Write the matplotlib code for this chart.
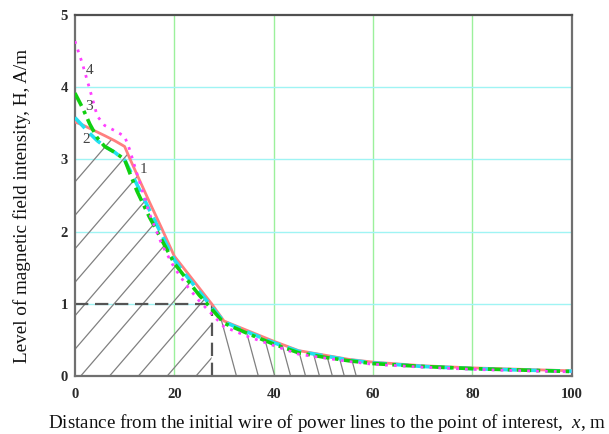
import numpy as np
import matplotlib
matplotlib.use("Agg")
import matplotlib.pyplot as plt
from matplotlib.patches import Polygon

# ---- data ----
x = [0, 1.5, 3, 4.5, 6, 8, 10, 11, 12.5, 15, 17.5, 20, 22.5, 25, 27.5, 30,
     35, 40, 45, 50, 55, 60, 70, 80, 90, 100]
h1 = [3.52, 3.48, 3.43, 3.38, 3.33, 3.26, 3.18, 3.02, 2.79, 2.41, 2.04, 1.66, 1.44, 1.22, 1.00, 0.76,
      0.62, 0.48, 0.35, 0.29, 0.23, 0.19, 0.14, 0.11, 0.09, 0.07]
h2 = [3.58, 3.47, 3.36, 3.26, 3.18, 3.10, 2.99, 2.86, 2.65, 2.30, 1.95, 1.61, 1.38, 1.17, 0.96, 0.75,
      0.60, 0.46, 0.34, 0.28, 0.22, 0.18, 0.13, 0.10, 0.08, 0.065]
h3 = [3.92, 3.72, 3.49, 3.30, 3.18, 3.10, 3.00, 2.82, 2.56, 2.20, 1.88, 1.56, 1.34, 1.12, 0.93, 0.73,
      0.58, 0.44, 0.32, 0.26, 0.21, 0.17, 0.13, 0.10, 0.08, 0.06]
h4 = [4.64, 4.33, 3.97, 3.60, 3.47, 3.40, 3.32, 3.14, 2.80, 2.25, 1.82, 1.50, 1.25, 1.04, 0.86, 0.68,
      0.54, 0.42, 0.30, 0.25, 0.20, 0.16, 0.12, 0.09, 0.07, 0.055]
curve_labels = ["1", "2", "3", "4"]
label_pos = [(13.9, 2.86), (2.3, 3.28), (2.9, 3.74), (2.9, 4.23)]
x_limit = 27.5          # distance where H = 1 A/m
h_limit = 1.0
x_right_end = 58
x_ticks = [0, 20, 40, 60, 80, 100]
y_ticks = [0, 1, 2, 3, 4, 5]

plt.rcParams['font.family'] = ['Liberation Serif', 'DejaVu Serif']
plt.rcParams['mathtext.fontset'] = 'custom'
plt.rcParams['mathtext.it'] = 'Liberation Serif:italic'
plt.rcParams['mathtext.rm'] = 'Liberation Serif'

fig = plt.figure(figsize=(6.09, 4.34), dpi=100)
ax = fig.add_axes([0.123, 0.134, 0.816, 0.831])
ax.set_xlim(0, 100)
ax.set_ylim(0, 5)

# grid
for gx in x_ticks[1:-1]:
    ax.axvline(gx, color='#9cf09c', lw=1.0, zorder=0)
for gy in y_ticks[1:-1]:
    ax.axhline(gy, color='#9ff4f4', lw=1.0, zorder=0)

# hatched regions (clip paths derived from curve 1)
xa = np.array(x, float); ya = np.array(h1, float)
xl = np.linspace(0, x_limit, 200)
left_poly = np.vstack([np.column_stack([xl, np.interp(xl, xa, ya)]), [[x_limit, 0], [0, 0]]])
xr = np.linspace(x_limit, x_right_end, 200)
right_poly = np.vstack([np.column_stack([xr, np.interp(xr, xa, ya)]), [[x_right_end, 0], [x_limit, 0]]])
lp = Polygon(left_poly, closed=True, facecolor='none', edgecolor='none', transform=ax.transData)
rp = Polygon(right_poly, closed=True, facecolor='none', edgecolor='none', transform=ax.transData)
ax.add_patch(lp); ax.add_patch(rp)

hatch_col = '#808080'
slope_l = 0.08
for k in range(-6, 5):
    xb = 1.2 + 5.8 * k
    xs = np.array([-5, 40])
    ln, = ax.plot(xs, slope_l * (xs - xb), color=hatch_col, lw=0.9, zorder=1)
    ln.set_clip_path(lp)
slope_r = 0.2555
for xb in [32.5, 36.9, 40.2, 43.4, 46.4, 49.2, 51.8, 54.2, 56.6]:
    xs = np.array([20, 70])
    ln, = ax.plot(xs, slope_r * (xb - xs), color=hatch_col, lw=0.9, zorder=1)
    ln.set_clip_path(rp)

# dashed guide lines
ax.plot([0, x_limit], [h_limit, h_limit], color='#555555', lw=1.6, ls=(0, (6, 3)), zorder=2)
ax.plot([x_limit, x_limit], [0, h_limit], color='#555555', lw=1.6, ls=(0, (6, 3)), zorder=2)

# curves
ax.plot(x, h1, color='#ff7f7f', lw=2.0, zorder=3)
ax.plot(x, h2, color='#22e0f0', lw=2.6, ls=(0, (4, 2)), zorder=4)
ax.plot(x, h3, color='#10d010', lw=2.6, ls=(0, (4, 1.5, 1, 1.5)), zorder=5)
ax.plot(x, h4, color='#ff40ff', lw=2.0, ls=(0, (1, 2.2)), zorder=6)

for lab, (lx, ly) in zip(curve_labels, label_pos):
    ax.text(lx, ly, lab, fontsize=11, color='#444444', ha='center', va='center', zorder=7)

ax.set_xticks(x_ticks)
ax.set_yticks(y_ticks)
ax.tick_params(length=0, labelsize=10.5, colors='#2a2a2a')
ax.tick_params(axis='x', pad=9)
ax.tick_params(axis='y', pad=5)
for t in ax.get_xticklabels() + ax.get_yticklabels():
    t.set_fontweight('bold')
for s in ax.spines.values():
    s.set_color('#707070')
    s.set_linewidth(1.6)
ax.spines['top'].set_color('#505050')

fig.text(22 / 609, 1 - 206 / 434, 'Level of magnetic field intensity, H, A/m', fontsize=13.8,
         rotation=90, ha='center', va='center', color='#111111')
fig.text(327 / 609, 1 - 423 / 434,
         'Distance from the initial wire of power lines to the point of interest,  $x$, m',
         fontsize=13.7, ha='center', va='center', color='#111111')

fig.savefig('out.png', dpi=100)
